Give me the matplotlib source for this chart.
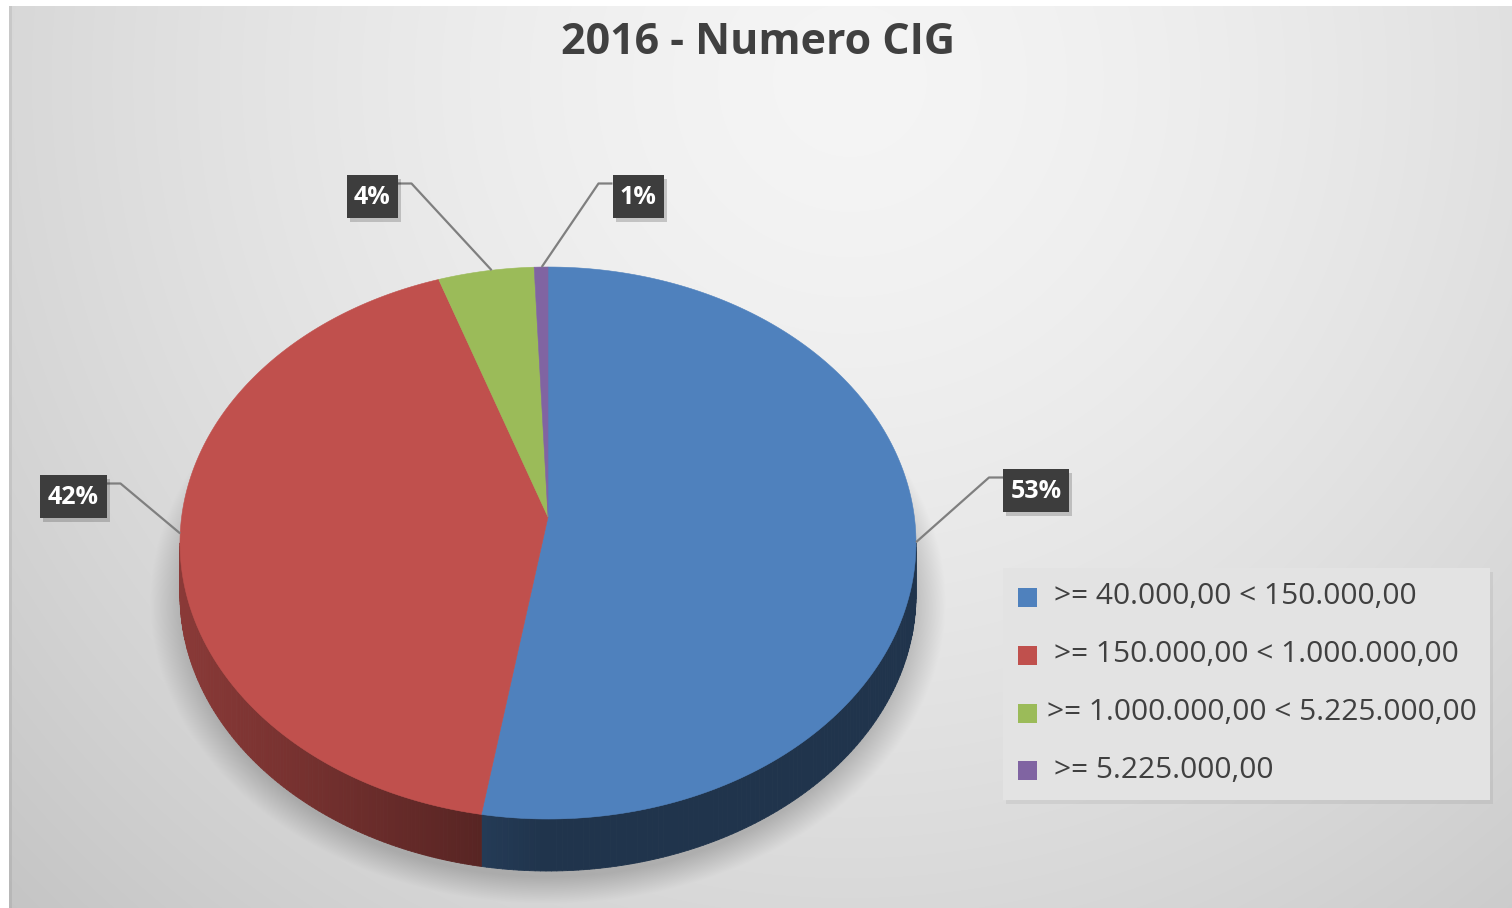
import numpy as np
import matplotlib.pyplot as plt
from matplotlib.patches import Polygon, Rectangle
from matplotlib.collections import PolyCollection

# data
categories = ['>= 40.000,00 < 150.000,00', '>= 150.000,00 < 1.000.000,00',
              '>= 1.000.000,00 < 5.225.000,00', '>= 5.225.000,00']
shares = [52.9, 42.3, 4.2, 0.6]
colors = ['#4f81bd', '#c0504d', '#9bbb59', '#8064a2']
title = '2016 - Numero CIG'

# layout (pixels)
W, H = 1512, 908
PAD = 20
CX, CY = 548, 543
RX, RY = 368, 276
DEPTH = 52
APEX_DY = -26
box_centers = [(1036, 490), (73, 496), (372, 196), (638, 196)]
box_widths = [66, 67, 51, 51]
BOX_H = 43
legend_rows = [597, 655, 713, 770]
legend_text_x = [1054, 1054, 1047, 1054]

plt.rcParams['font.family'] = ['Open Sans', 'DejaVu Sans']

fig = plt.figure(figsize=(15.12, 9.08), dpi=100, facecolor='#c9c9c9')
ax = fig.add_axes([0, 0, 1, 1])
ax.axis('off')

# background: radial grey gradient + soft shadow under the pie
yy, xx = np.mgrid[-PAD:H + PAD, -PAD:W + PAD].astype(float) + 0.5
d = np.hypot(xx - 850, yy - 80) / 1100
bg = 0.96 - 0.17 * np.clip(d, 0, 1.3) ** 1.5
sd = np.hypot((xx - CX) / 398, (yy - 602) / 302)
bg = bg * (1 - 0.2 * np.clip((1.0 - sd) / 0.09, 0, 1))
bg[(xx >= 9) & (xx < 12)] *= 0.93
bg[(xx < 9) | (yy < 6)] = 1.0
ax.imshow(np.dstack([bg, bg, bg]), extent=(-PAD, W + PAD, H + PAD, -PAD),
          zorder=0, interpolation='nearest', aspect='auto')
ax.set_xlim(0, W)
ax.set_ylim(H, 0)


def ell(phi):
    return CX + RX * np.cos(phi), CY - RY * np.sin(phi)


def shade(c, f):
    r, g, b = [int(c[i:i + 2], 16) / 255 for i in (1, 3, 5)]
    return (r * f, g * f, b * f)


total = sum(shares)
starts, ends = [], []
a = 90.0
for s in shares:
    starts.append(a)
    a -= 360 * s / total
    ends.append(a)

# side walls (front half only)
for c, a1, a2 in zip(colors, starts, ends):
    lo, hi = max(a2, -180), min(a1, 0)
    if hi <= lo:
        continue
    ph = np.radians(np.linspace(lo, hi, 120))
    quads, fcs = [], []
    for p1, p2 in zip(ph[:-1], ph[1:]):
        x1, y1 = ell(p1)
        x2, y2 = ell(p2)
        quads.append([(x1, y1), (x2, y2), (x2, y2 + DEPTH), (x1, y1 + DEPTH)])
        f = 0.40 + 0.32 * max(0, -np.cos((p1 + p2) / 2))
        fcs.append(shade(c, f))
    ax.add_collection(PolyCollection(quads, facecolors=fcs, edgecolors=fcs,
                                     linewidths=0.6, zorder=2))

# top faces
apex = (CX, CY + APEX_DY)
for c, a1, a2 in zip(colors, starts, ends):
    ph = np.radians(np.linspace(a1, a2, 200))
    xs, ys = ell(ph)
    pts = [apex] + list(zip(xs, ys))
    ax.add_patch(Polygon(pts, closed=True, fc=c, ec=c, lw=0.4, zorder=3))

# data labels with leader lines
for s, a1, a2, (bx, by), bw in zip(shares, starts, ends, box_centers, box_widths):
    m = np.radians((a1 + a2) / 2)
    dx, dy = RX * np.cos(m), -RY * np.sin(m)
    qa = (dx / RX) ** 2 + (dy / RY) ** 2
    qb = 2 * APEX_DY * dy / RY ** 2
    qc = (APEX_DY / RY) ** 2 - 1
    t = (-qb + np.sqrt(qb ** 2 - 4 * qa * qc)) / (2 * qa)
    px, py = CX + t * dx, CY + APEX_DY + t * dy
    top = by - BOX_H / 2
    if bx > px:
        edge = bx - bw / 2
        ex = edge - 14
    else:
        edge = bx + bw / 2
        ex = edge + 14
    ax.plot([px, ex, edge], [py, top + 9, top + 9], color='#7f7f7f', lw=1.6,
            zorder=4, solid_capstyle='butt')
    ax.add_patch(Rectangle((bx - bw / 2 + 3, top + 4), bw, BOX_H, fc='black',
                           alpha=0.18, ec='none', zorder=4.5))
    ax.add_patch(Rectangle((bx - bw / 2, top), bw, BOX_H, fc='#3d3d3d',
                           ec='none', zorder=5))
    ax.text(bx, by + 1, f'{round(s)}%', ha='center', va='center', color='white',
            fontsize=18, fontweight='bold', zorder=6)

# title
ax.text(758, 43, title, ha='center', va='center', fontsize=31,
        fontweight='bold', color='#404040', zorder=6)

# legend
ax.add_patch(Rectangle((1006, 572), 487, 232, fc='black', alpha=0.06, ec='none',
                       zorder=4))
ax.add_patch(Rectangle((1003, 568), 487, 232, fc='#e3e3e3', ec='none', zorder=5))
for lab, c, ry, tx in zip(categories, colors, legend_rows, legend_text_x):
    ax.add_patch(Rectangle((1018, ry - 9.5), 19, 19, fc=c, ec='none', zorder=6))
    ax.text(tx, ry, lab, ha='left', va='center', fontsize=21.5,
            color='#404040', zorder=6)

fig.savefig('out.png', dpi=100, facecolor=fig.get_facecolor())
